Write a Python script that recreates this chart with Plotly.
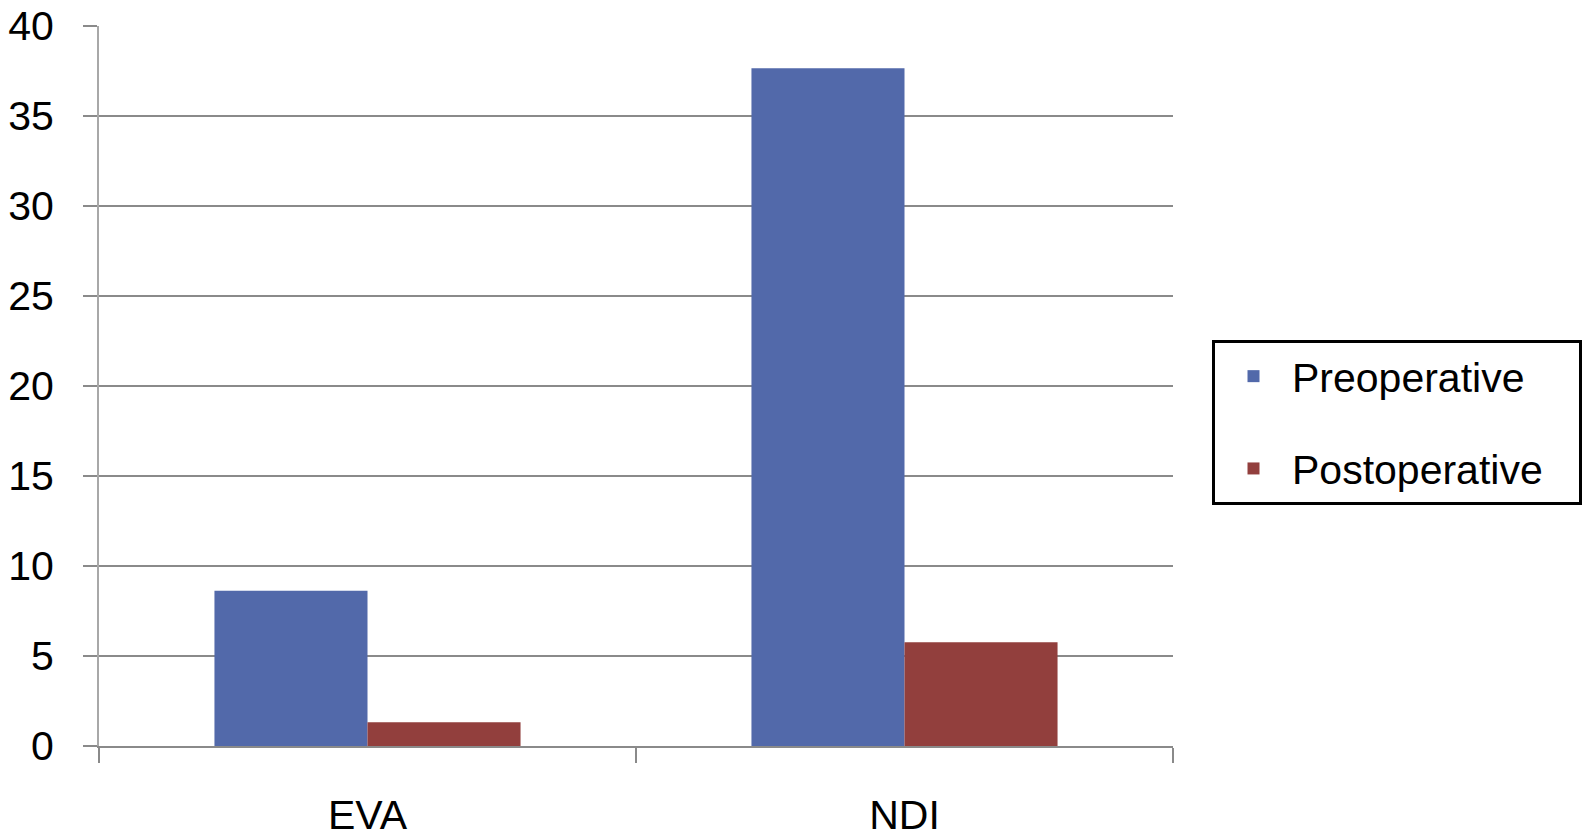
import plotly.graph_objects as go

categories = ["EVA", "NDI"]
preoperative = [8.63, 37.65]
postoperative = [1.32, 5.76]
series_names = ["Preoperative", "Postoperative"]
y_ticks = [0, 5, 10, 15, 20, 25, 30, 35, 40]

BLUE = "rgb(82,105,170)"
RED = "rgb(146,63,61)"
GRID = "#8a8a8a"
FONT = "Liberation Sans, Arial, sans-serif"
PAD = "\u00a0\u00a0\u2009"  # right padding inside the legend box

fig = go.Figure()
fig.add_trace(go.Bar(x=categories, y=preoperative, name=series_names[0] + PAD,
                     marker=dict(color=BLUE, line=dict(width=0)), legendgroup="a"))
fig.add_trace(go.Bar(x=categories, y=postoperative, name=series_names[1] + PAD,
                     marker=dict(color=RED, line=dict(width=0)), legendgroup="b"))

fig.update_layout(
    width=1587, height=837,
    margin=dict(l=99, r=414, t=26, b=91, autoexpand=False),
    paper_bgcolor="white", plot_bgcolor="white",
    barmode="group", bargap=0.43, bargroupgap=0,
    font=dict(family=FONT, size=41, color="black"),
    showlegend=True,
    legend=dict(
        x=(1212 - 99) / 1074, xanchor="left", y=(746 - 340) / 720, yanchor="top",
        bordercolor="black", borderwidth=3, bgcolor="white",
        font=dict(family=FONT, size=41, color="black"),
        tracegroupgap=36, traceorder="grouped",
        itemwidth=67,
    ),
)
fig.update_yaxes(
    range=[0, 40], tickvals=y_ticks, ticktext=[str(v) for v in y_ticks],
    showgrid=True, gridcolor=GRID, gridwidth=2,
    showline=True, linecolor="#a8a8a8", linewidth=2,
    ticks="outside", ticklen=14, tickwidth=2, tickcolor=GRID,
    ticklabelstandoff=21, zeroline=False, automargin=False,
    tickfont=dict(family=FONT, size=41, color="black"),
)
fig.update_xaxes(
    showline=True, linecolor=GRID, linewidth=2,
    ticks="outside", tickson="boundaries", ticklen=15, tickwidth=2, tickcolor=GRID,
    ticklabelstandoff=32, automargin=False,
    tickfont=dict(family=FONT, size=41, color="black"),
)

fig.write_html(
    "out.html",
    config={"displayModeBar": False},
    post_script="document.body.style.margin='0';document.body.style.overflow='hidden';",
)
